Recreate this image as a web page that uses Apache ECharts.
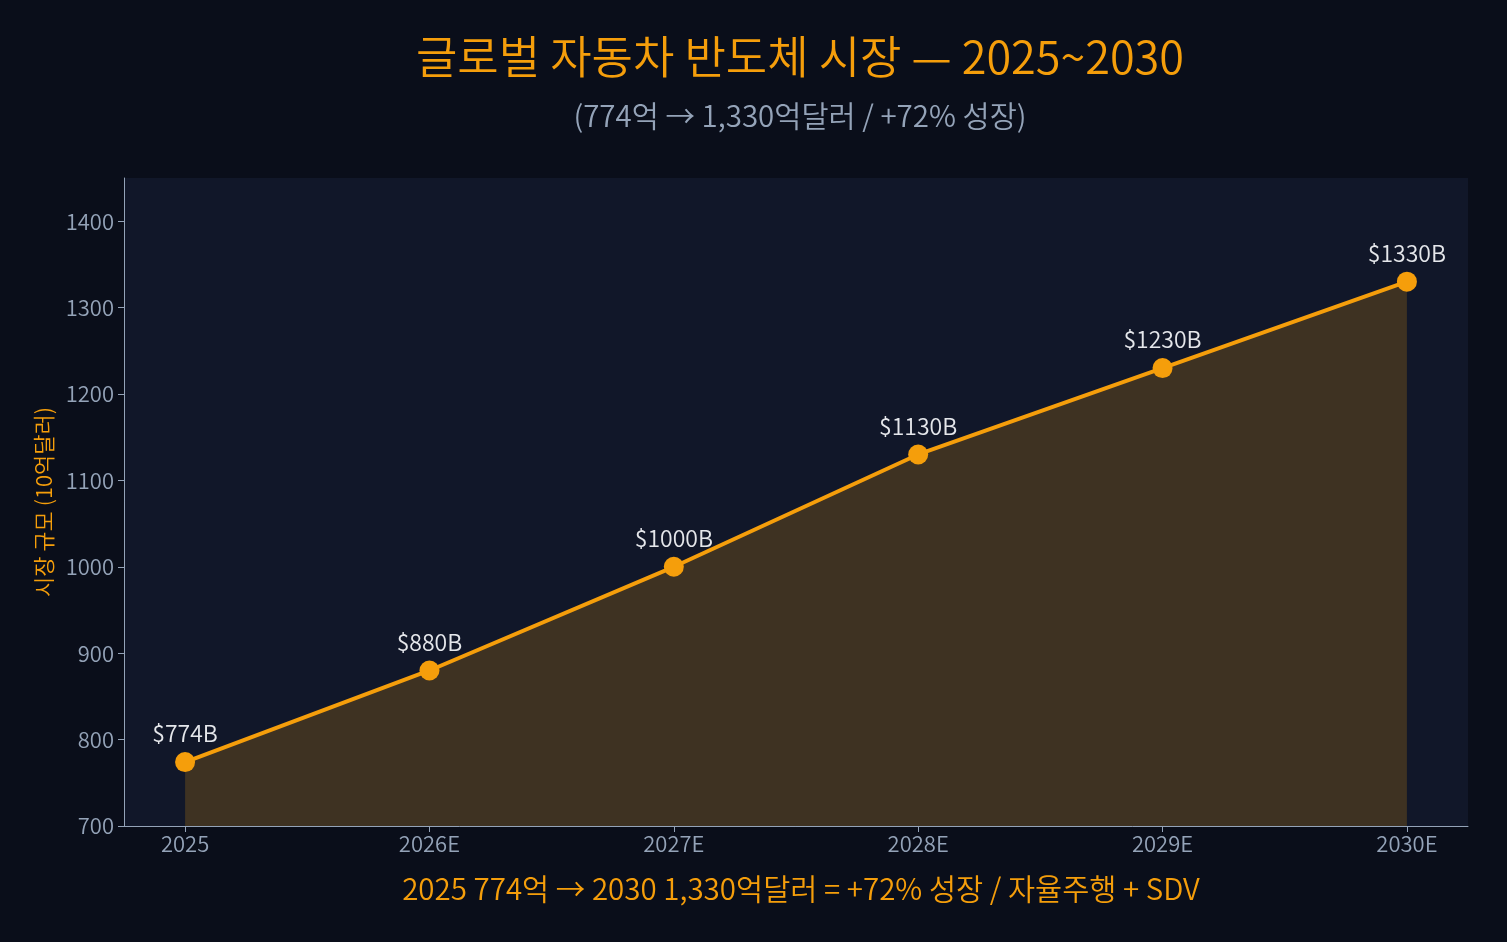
<!DOCTYPE html>
<html>
<head>
<meta charset="utf-8">
<script src="https://cdn.jsdelivr.net/npm/echarts@6/dist/echarts.min.js"></script>
<style>
  html, body { margin: 0; padding: 0; background: #0a0e1a; }
  #chart { width: 1507px; height: 942px; }
</style>
</head>
<body>
<div id="chart"></div>
<script>
  // chart data
  const years = ['2025', '2026E', '2027E', '2028E', '2029E', '2030E'];
  const marketSize = [774, 880, 1000, 1130, 1230, 1330];   // 10억달러
  const yTicks = [700, 800, 900, 1000, 1100, 1200, 1300, 1400];

  const ORANGE = '#f59e0b';
  const GRAY = '#94a3b8';
  const FONT = "'Noto Sans CJK KR', 'Noto Sans', sans-serif";
  const W = 350;

  const chart = echarts.init(document.getElementById('chart'));
  const idx = years.map((y, i) => i);

  chart.setOption({
    backgroundColor: '#0a0e1a',
    textStyle: { fontFamily: FONT },
    title: [
      {
        text: '글로벌 자동차 반도체 시장 — 2025~2030',
        left: 795, top: 29, textAlign: 'center',
        textStyle: { color: ORANGE, fontSize: 45, fontWeight: W, fontFamily: FONT }
      },
      {
        text: '(774억 → 1,330억달러 / +72% 성장)',
        left: 795, top: 96, textAlign: 'center',
        textStyle: { color: GRAY, fontSize: 29.5, fontWeight: W, fontFamily: FONT }
      },
      {
        text: '2025 774억 → 2030 1,330억달러 = +72% 성장 / 자율주행 + SDV',
        left: 796, top: 869, textAlign: 'center',
        textStyle: { color: ORANGE, fontSize: 29.5, fontWeight: W, fontFamily: FONT }
      }
    ],
    grid: {
      left: 124, right: 39, top: 178, bottom: 116,
      show: true, backgroundColor: '#111729', borderWidth: 0
    },
    xAxis: {
      type: 'value', min: -0.25, max: 5.25,
      splitLine: { show: false },
      axisLine: { show: true, onZero: false, lineStyle: { color: GRAY, width: 1 } },
      axisTick: { show: true, length: 6, lineStyle: { color: GRAY }, customValues: idx },
      axisLabel: {
        color: GRAY, fontSize: 22, fontWeight: W, margin: 7, fontFamily: FONT,
        customValues: idx,
        formatter: (v) => years[Math.round(v)]
      }
    },
    yAxis: {
      type: 'value', min: 700, max: 1450,
      name: '시장 규모 (10억달러)', nameLocation: 'middle', nameGap: 65,
      nameTextStyle: { color: ORANGE, fontSize: 22, fontWeight: W, fontFamily: FONT },
      splitLine: { show: false },
      axisLine: { show: true, onZero: false, lineStyle: { color: GRAY, width: 1 } },
      axisTick: { show: true, length: 6, lineStyle: { color: GRAY }, customValues: yTicks },
      axisLabel: {
        color: GRAY, fontSize: 22, fontWeight: W, margin: 10, fontFamily: FONT,
        customValues: yTicks,
        formatter: (v) => String(v)
      }
    },
    series: [{
      type: 'line',
      data: marketSize.map((v, i) => [i, v]),
      symbol: 'circle', symbolSize: 20,
      lineStyle: { color: ORANGE, width: 4 },
      itemStyle: { color: ORANGE },
      areaStyle: { color: ORANGE, opacity: 0.2, origin: 'start' },
      label: {
        show: true, position: 'top', distance: 7,
        color: '#e5e7eb', fontSize: 23, fontWeight: W, fontFamily: FONT,
        formatter: (p) => '$' + p.value[1] + 'B'
      },
      z: 3
    }]
  });
</script>
</body>
</html>
